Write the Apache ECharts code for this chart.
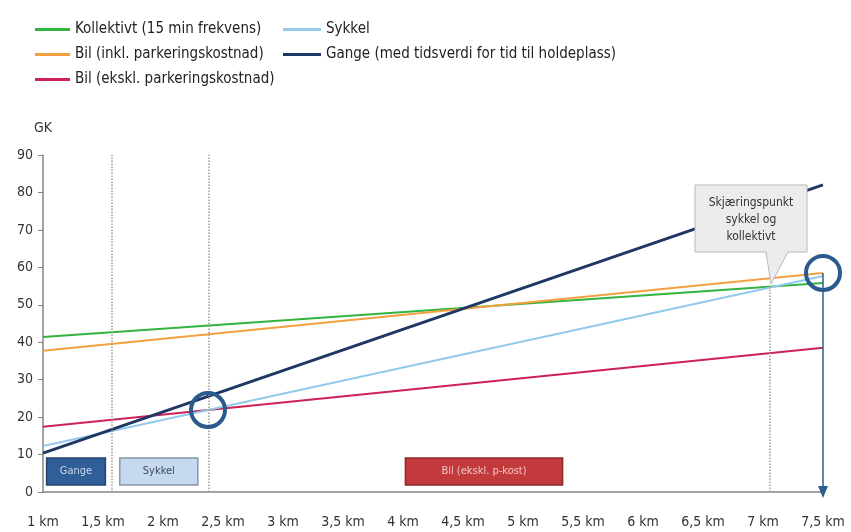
<!DOCTYPE html>
<html>
<head>
<meta charset="utf-8">
<script src="https://cdn.jsdelivr.net/npm/echarts@6/dist/echarts.min.js"></script>
<style>
html,body{margin:0;padding:0;background:#fff;}
#chart{width:851px;height:532px;}
</style>
</head>
<body>
<div id="chart"></div>
<script>
// avstand (km) ved start og slutt av linjene
const km = [1, 7.5];
const kollektivt = [41.4, 55.8];
const bilInkl = [37.7, 58.5];
const bilEkskl = [17.4, 38.5];
const sykkel = [12.3, 57.7];
const gange = [10.4, 82];

const navn = ['Kollektivt (15 min frekvens)', 'Bil (inkl. parkeringskostnad)', 'Bil (ekskl. parkeringskostnad)', 'Sykkel', 'Gange (med tidsverdi for tid til holdeplass)'];
const farger = ['#33b440', '#f5a040', '#cc2257', '#92c9ec', '#1f3764'];

const font = '"Liberation Sans Narrow", "DejaVu Sans Condensed", sans-serif';

function pts(vals){
    return km.map(function(x, i){ return [x, vals[i]]; });
}

var chart = echarts.init(document.getElementById('chart'));

var option = {
    animation: false,
    textStyle: {fontFamily: font},
    color: farger,
    grid: {left: 43, right: 28, top: 155, bottom: 40},
    legend: [{
        left: 30, top: 17, orient: 'vertical', itemGap: 10,
        icon: 'rect', itemWidth: 35, itemHeight: 3,
        textStyle: {fontFamily: font, fontSize: 15, color: '#222'},
        data: navn.slice(0, 3)
    }, {
        left: 278, top: 17, orient: 'vertical', itemGap: 10,
        icon: 'rect', itemWidth: 38, itemHeight: 3,
        textStyle: {fontFamily: font, fontSize: 15, color: '#222'},
        data: navn.slice(3)
    }],
    xAxis: {
        type: 'value', min: 1, max: 7.5, interval: 0.5,
        splitLine: {show: false},
        axisTick: {show: false},
        axisLine: {lineStyle: {color: '#858585', width: 1.5}},
        axisLabel: {
            margin: 23, fontSize: 14, color: '#333', fontFamily: font,
            formatter: function(v){ return String(v).replace('.', ',') + ' km'; }
        }
    },
    yAxis: {
        type: 'value', min: 0, max: 90, interval: 10,
        name: 'GK', nameGap: 20,
        nameTextStyle: {fontSize: 14, color: '#333', fontFamily: font, align: 'center'},
        splitLine: {show: false},
        axisLine: {show: true, lineStyle: {color: '#858585', width: 1.5}},
        axisTick: {show: true, length: 5, lineStyle: {color: '#858585'}},
        axisLabel: {fontSize: 14, color: '#333', fontFamily: font, margin: 10}
    },
    series: [
        {name: navn[0], type: 'line', symbol: 'none', data: pts(kollektivt), lineStyle: {width: 2}, z: 3},
        {name: navn[1], type: 'line', symbol: 'none', data: pts(bilInkl), lineStyle: {width: 2}, z: 3},
        {name: navn[2], type: 'line', symbol: 'none', data: pts(bilEkskl), lineStyle: {width: 2}, z: 3},
        {name: navn[3], type: 'line', symbol: 'none', data: pts(sykkel), lineStyle: {width: 2}, z: 3},
        {name: navn[4], type: 'line', symbol: 'none', data: pts(gange), lineStyle: {width: 3}, z: 4},
        {
            // hjelpeserie: stiplede linjer, bokser og pil
            type: 'line', data: [], silent: true,
            markLine: {
                silent: true, symbol: 'none',
                label: {show: false},
                lineStyle: {type: 'dotted', color: '#9a9a9a', width: 1.5},
                data: [
                    {xAxis: 1.57},
                    {xAxis: 2.375},
                    [{coord: [7.06, 0]}, {coord: [7.06, 55]}],
                    [{coord: [7.5, 58.5], symbol: 'none',
                      lineStyle: {type: 'solid', color: '#2e5d91', width: 1.5}},
                     {coord: [7.5, 0], symbol: 'triangle', symbolSize: [10, 12], symbolRotate: 180,
                      lineStyle: {type: 'solid', color: '#2e5d91', width: 1.5}}]
                ]
            },
            markArea: {
                silent: true,
                data: [
                    [{coord: [1.03, 1.9], name: 'Gange',
                      itemStyle: {color: '#2f5e98', borderColor: '#23456e', borderWidth: 1.5},
                      label: {color: '#c9d6ea'}},
                     {coord: [1.52, 9.1]}],
                    [{coord: [1.64, 1.9], name: 'Sykkel',
                      itemStyle: {color: '#c7d9f0', borderColor: '#8695a8', borderWidth: 1.5},
                      label: {color: '#3a4a60'}},
                     {coord: [2.29, 9.1]}],
                    [{coord: [4.02, 1.9], name: 'Bil (ekskl. p-kost)',
                      itemStyle: {color: '#c23a3c', borderColor: '#8e2a2a', borderWidth: 1.5},
                      label: {color: '#f1c4c4'}},
                     {coord: [5.33, 9.1]}]
                ],
                label: {position: 'inside', fontSize: 11, fontFamily: font}
            }
        },
        {
            // ringer rundt skjæringspunktene
            type: 'scatter', silent: true, z: 6,
            symbol: 'circle', symbolSize: 34,
            itemStyle: {color: 'rgba(0,0,0,0)', borderColor: '#2b5a8c', borderWidth: 4, opacity: 1},
            data: [[2.375, 21.9], [7.5, 58.5]]
        }
    ],
    graphic: [{
        type: 'polygon', z: 10,
        shape: {points: [[695, 185], [807, 185], [807, 252], [788, 252], [771, 284], [766, 252], [695, 252]]},
        style: {fill: '#ececec', stroke: '#b9b9b9', lineWidth: 1}
    }, {
        type: 'text', z: 11, left: 705, top: 194,
        style: {
            text: 'Skjæringspunkt\nsykkel og\nkollektivt',
            width: 92, align: 'center', textAlign: 'center',
            x: 46, font: '12px ' + font, fill: '#333', lineHeight: 17
        }
    }]
};

chart.setOption(option);
</script>
</body>
</html>
